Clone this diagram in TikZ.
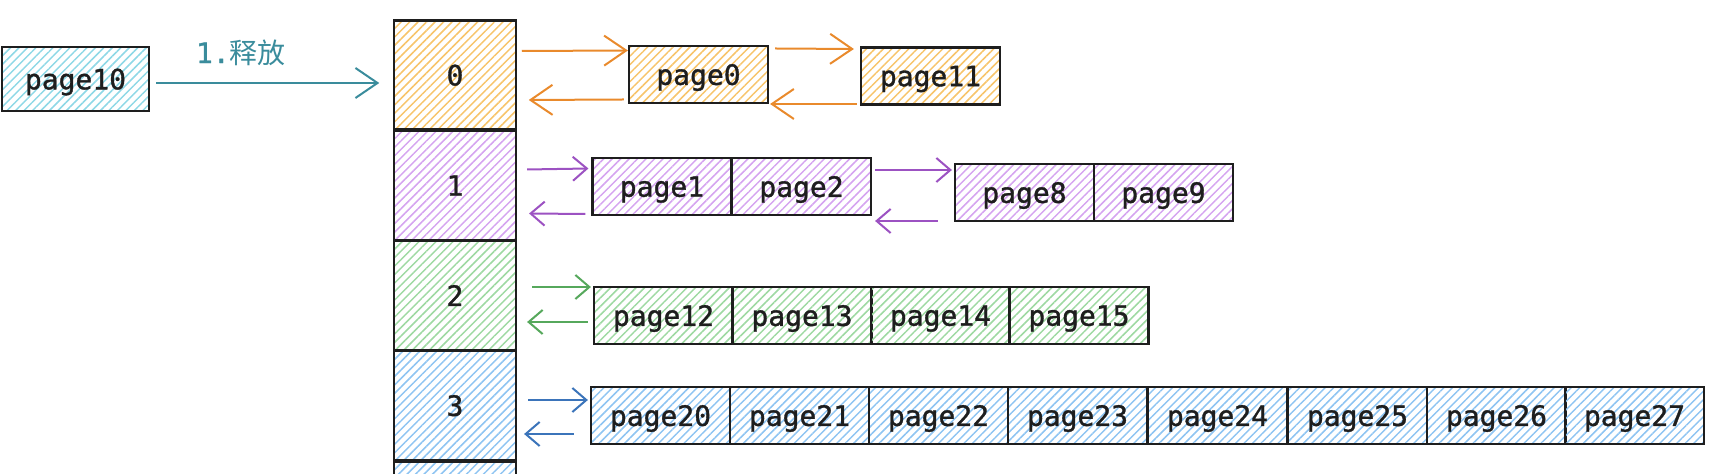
\documentclass[tikz,border=0pt]{standalone}
\usepackage{fontspec}
\newfontfamily\mono[FakeBold=1.2]{DejaVu Sans Mono}
\newfontfamily\cjk{Noto Sans CJK SC}
\usetikzlibrary{arrows.meta,patterns.meta,positioning}
\definecolor{tealH}{HTML}{8ED8E6}
\definecolor{tealA}{HTML}{3A8C9C}
\definecolor{orH}{HTML}{F7C46A}
\definecolor{orA}{HTML}{E98A2C}
\definecolor{puH}{HTML}{D5A4F0}
\definecolor{puA}{HTML}{9C52C2}
\definecolor{grH}{HTML}{9ED9A2}
\definecolor{grA}{HTML}{56A85C}
\definecolor{blH}{HTML}{8EC4F2}
\definecolor{blA}{HTML}{3B74BA}
\definecolor{ink}{HTML}{1E1E1E}
\tikzset{
  box/.style={draw=ink, line width=1.1pt, font=\mono\fontsize{14}{16}\selectfont, text=ink,
    pattern={Lines[angle=45,distance=3pt,line width=0.75pt]}, inner sep=0pt, text depth=0pt},
  pg/.style={box, minimum width=69.5pt, minimum height=28.5pt},
  idx/.style={box, minimum width=61pt, minimum height=54.5pt},
  barb/.style={-{Straight Barb[length=7pt,width=12pt,line width=1pt]}, line width=1pt},
  bigbarb/.style={-{Straight Barb[length=11pt,width=15pt,line width=1pt]}, line width=1pt},
  tealbox/.style={pattern color=tealH},
  orbox/.style={pattern color=orH},
  pubox/.style={pattern color=puH},
  grbox/.style={pattern color=grH},
  blbox/.style={pattern color=blH},
}
\begin{document}
\begin{tikzpicture}[x=0.5pt,y=-0.5pt]
\useasboundingbox (0,0) rectangle (1710,474);
% index column
\node[idx,orbox] (b0) at (455,75) {0};
\node[idx,pubox] (b1) at (455,185.5) {1};
\node[idx,grbox] (b2) at (455,295.5) {2};
\node[idx,blbox] (b3) at (455,405.5) {3};
\node[idx,blbox] (b4) at (455,516) {};
% freed page
\node[pg,tealbox, minimum width=73.5pt, minimum height=32pt] (pg10) at (75.5,79) {page10};
\draw[bigbarb, draw=tealA] ([xshift=3pt,yshift=-2pt]pg10.east) -- ([xshift=-7pt,yshift=-4pt]b0.west)
  node[pos=0.38, above=5pt, text=tealA, font=\fontsize{14}{16}\selectfont] (lbl) {\mono 1.\cjk 释放};
% row 0
\node[pg,orbox] (p0) at (698.5,74.5) {page0};
\node[pg,orbox] (p11) at (930.5,76) {page11};
\draw[bigbarb, draw=orA] ([xshift=2.5pt,yshift=12pt]b0.east) -- ([yshift=12pt]p0.west);
\draw[bigbarb, draw=orA] ([xshift=-2pt,yshift=-12.5pt]p0.west) -- ([xshift=6pt,yshift=-12.5pt]b0.east);
\draw[bigbarb, draw=orA] ([xshift=3pt,yshift=13pt]p0.east) -- ([xshift=-3pt,yshift=13.5pt]p11.west);
\draw[bigbarb, draw=orA] ([xshift=-1.5pt,yshift=-14pt]p11.west) -- ([xshift=0.5pt,yshift=-14.75pt]p0.east);
% row 1
\node[pg,pubox] (p1) at (662,186.5) {page1};
\node[pg,pubox] (p2) at (801.5,186.5) {page2};
\node[pg,pubox] (p8) at (1024.5,192.5) {page8};
\node[pg,pubox] (p9) at (1163.5,192.5) {page9};
\draw[barb, draw=puA] ([xshift=5pt,yshift=8pt]b1.east) -- ([xshift=-1.5pt,yshift=9pt]p1.west);
\draw[barb, draw=puA] ([xshift=-3pt,yshift=-13.75pt]p1.west) -- ([xshift=6pt,yshift=-14pt]b1.east);
\draw[barb, draw=puA] ([xshift=1.5pt,yshift=8.25pt]p2.east) -- ([xshift=-1pt,yshift=11.25pt]p8.west);
\draw[barb, draw=puA] ([xshift=-8pt,yshift=-14.25pt]p8.west) -- ([xshift=1.5pt,yshift=-17.25pt]p2.east);
% row 2
\node[pg,grbox] (p12) at (663.5,315.5) {page12};
\node[pg,grbox] (p13) at (802,315.5) {page13};
\node[pg,grbox] (p14) at (940.5,315.5) {page14};
\node[pg,grbox] (p15) at (1079,315.5) {page15};
\draw[barb, draw=grA] ([xshift=7.5pt,yshift=4.25pt]b2.east) -- ([xshift=-1pt,yshift=14.25pt]p12.west);
\draw[barb, draw=grA] ([xshift=-2.5pt,yshift=-3.25pt]p12.west) -- ([xshift=5pt,yshift=-13.25pt]b2.east);
% row 3
\node[pg,blbox] (p20) at (660.5,415.5) {page20};
\node[pg,blbox] (p21) at (799.5,415.5) {page21};
\node[pg,blbox] (p22) at (938.5,415.5) {page22};
\node[pg,blbox] (p23) at (1077.5,415.5) {page23};
\node[pg,blbox] (p24) at (1217.5,415.5) {page24};
\node[pg,blbox] (p25) at (1357.5,415.5) {page25};
\node[pg,blbox] (p26) at (1496.5,415.5) {page26};
\node[pg,blbox] (p27) at (1634.5,415.5) {page27};
\draw[barb, draw=blA] ([xshift=5.5pt,yshift=2.75pt]b3.east) -- ([xshift=-1pt,yshift=7.75pt]p20.west);
\draw[barb, draw=blA] ([xshift=-8pt,yshift=-9.25pt]p20.west) -- ([xshift=3.5pt,yshift=-14.25pt]b3.east);
\end{tikzpicture}
\end{document}
